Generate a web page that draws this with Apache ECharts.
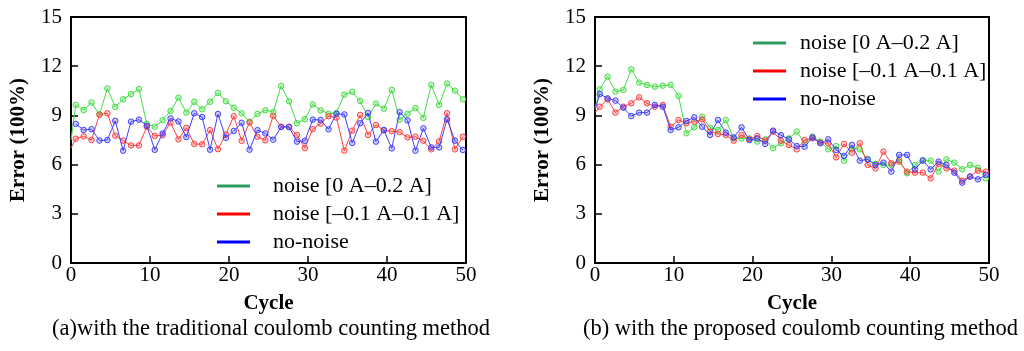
<!DOCTYPE html>
<html>
<head>
<meta charset="utf-8">
<script src="https://cdn.jsdelivr.net/npm/echarts@6/dist/echarts.min.js"></script>
<style>html,body{margin:0;padding:0;background:#fff;}#c{width:1024px;height:351px;}</style>
</head>
<body>
<div id="c"></div>
<script>
// x positions of the plotted points (first entry is the line start at cycle 0)
const cycles = [0, 0.6, 1.6, 2.6, 3.6, 4.6, 5.6, 6.6, 7.6, 8.6, 9.6, 10.6, 11.6, 12.6, 13.6, 14.6, 15.6, 16.6, 17.6, 18.6, 19.6,
  20.6, 21.6, 22.6, 23.6, 24.6, 25.6, 26.6, 27.6, 28.6, 29.6, 30.6, 31.6, 32.6, 33.6, 34.6, 35.6, 36.6, 37.6, 38.6, 39.6,
  40.6, 41.6, 42.6, 43.6, 44.6, 45.6, 46.6, 47.6, 48.6, 49.6];
const xTicks = [0, 10, 20, 30, 40, 50];
const yTicks = [0, 3, 6, 9, 12, 15];
const seriesNames = ['noise [0 A\u20130.2 A]', 'noise [\u20130.1 A\u20130.1 A]', 'no-noise'];

// (a) traditional coulomb counting
const aGreen = [7.5, 9.64, 9.33, 9.78, 9.05, 10.64, 9.52, 9.98, 10.3, 10.61, 8.49, 8.31, 8.71, 9.27, 10.08, 9.17, 9.83, 9.37, 9.83, 10.37, 9.86,
  9.47, 9.13, 8.62, 9.09, 9.31, 9.21, 10.8, 9.86, 8.52, 8.77, 9.67, 9.31, 9.1, 9.15, 10.27, 10.44, 9.88, 8.9, 9.72, 9.41,
  10.55, 8.74, 9.11, 9.45, 8.85, 10.86, 9.64, 10.94, 10.51, 9.98];
const aRed = [7.0, 7.58, 7.72, 7.5, 9.05, 9.13, 7.76, 7.46, 7.17, 7.17, 8.31, 7.75, 7.79, 8.56, 7.54, 8.24, 7.26, 7.24, 8.1, 6.94, 7.84,
  8.95, 7.45, 8.57, 7.7, 7.48, 8.97, 8.31, 8.31, 7.81, 7.01, 8.16, 8.5, 8.95, 8.87, 6.85, 8.07, 9.03, 7.81, 8.42, 8.09,
  8.04, 7.98, 7.66, 7.7, 7.45, 6.93, 7.42, 9.13, 6.93, 7.7];
const aBlue = [null, 8.48, 8.11, 8.16, 7.47, 7.5, 8.67, 6.85, 8.62, 8.74, 8.37, 6.9, 7.9, 8.82, 8.63, 7.68, 9.13, 8.9, 6.91, 9.08, 7.63,
  8.05, 8.55, 6.91, 8.1, 7.9, 7.52, 8.29, 8.29, 7.4, 7.45, 8.74, 8.72, 8.15, 9.1, 9.06, 7.32, 8.52, 9.15, 7.4, 8.11,
  6.99, 9.2, 8.7, 6.85, 8.21, 7.05, 7.05, 8.76, 7.46, 6.89];

// (b) proposed coulomb counting
const bGreen = [9.43, 10.59, 11.36, 10.45, 10.55, 11.81, 11.0, 10.86, 10.75, 10.81, 10.86, 10.19, 7.91, 8.27, 8.92, 8.25, 8.11, 8.72, 7.6, 7.6, 7.6,
  7.4, 7.54, 7.0, 7.3, 7.6, 8.01, 7.3, 7.7, 7.4, 6.93, 7.13, 6.24, 6.99, 6.93, 6.32, 6.04, 5.98, 5.98, 6.28, 5.47,
  5.98, 6.28, 6.24, 5.57, 6.32, 6.12, 5.71, 5.98, 5.81, 5.16];
const bRed = [9.17, 9.53, 9.98, 9.17, 9.53, 9.74, 10.1, 9.74, 9.53, 9.64, 8.31, 8.72, 8.52, 8.62, 8.76, 8.01, 7.87, 7.81, 7.46, 7.81, 7.54,
  7.75, 7.46, 8.01, 7.46, 7.2, 6.93, 7.5, 7.6, 7.34, 7.3, 6.44, 7.26, 6.73, 7.3, 5.98, 5.77, 6.79, 6.08, 6.18, 5.57,
  5.51, 5.51, 5.16, 6.04, 5.77, 5.63, 5.02, 5.27, 5.63, 5.57];
const bBlue = [9.33, 10.3, 10.04, 9.9, 9.47, 8.96, 9.17, 9.17, 9.64, 9.53, 8.11, 8.27, 8.66, 8.88, 8.31, 7.81, 8.72, 7.95, 7.66, 8.27, 7.5,
  7.6, 7.26, 8.07, 7.8, 7.54, 7.13, 7.09, 7.66, 7.3, 7.54, 6.89, 6.53, 7.2, 6.24, 6.32, 5.98, 6.12, 5.57, 6.59, 6.59,
  5.71, 6.24, 5.71, 6.18, 5.98, 5.51, 4.9, 5.27, 5.1, 5.37];

const captions = ['(a)with the traditional coulomb counting method', '(b) with the proposed coulomb counting method'];

const FONT = 'Liberation Serif';
const lineColors = ['#44dd44', '#ff4040', '#4040ff'];
const fillColors = ['rgba(68,221,68,0.25)', 'rgba(255,64,64,0.25)', 'rgba(64,64,255,0.25)'];
const legendColors = ['#2e9b5f', '#ff0000', '#0000ff'];

function mkSeries(name, vals, ci, idx) {
  const data = cycles.map((x, i) => {
    const v = vals[i];
    if (v === null) return { value: [x, '-'] };
    if (i === 0) return { value: [x, v], symbol: 'none' };
    return { value: [x, v] };
  });
  return {
    name: name, type: 'line', xAxisIndex: idx, yAxisIndex: idx, data: data,
    symbol: 'circle', symbolSize: 5.5, showSymbol: true,
    lineStyle: { color: lineColors[ci], width: 1 },
    itemStyle: { color: fillColors[ci], borderColor: lineColors[ci], borderWidth: 1 },
    emphasis: { disabled: true }, animation: false, z: 2 + ci
  };
}

function mkX(idx) {
  return {
    type: 'value', gridIndex: idx, min: xTicks[0], max: xTicks[xTicks.length - 1], interval: xTicks[1] - xTicks[0],
    axisLine: { lineStyle: { color: '#000', width: 2 } },
    axisTick: { inside: true, length: 7, lineStyle: { color: '#000', width: 1.5 } },
    axisLabel: { color: '#000', fontFamily: FONT, fontSize: 21, margin: 2 },
    splitLine: { show: false },
    name: 'Cycle', nameLocation: 'middle', nameGap: 30,
    nameTextStyle: { color: '#000', fontFamily: FONT, fontSize: 21, fontWeight: 'bold' }
  };
}
function mkY(idx) {
  return {
    type: 'value', gridIndex: idx, min: yTicks[0], max: yTicks[yTicks.length - 1], interval: yTicks[1] - yTicks[0],
    axisLine: { lineStyle: { color: '#000', width: 2 } },
    axisTick: { inside: true, length: 7, lineStyle: { color: '#000', width: 1.5 } },
    axisLabel: { color: '#000', fontFamily: FONT, fontSize: 21, margin: 9 },
    splitLine: { show: false },
    name: 'Error (100%)', nameLocation: 'middle', nameGap: 42, nameRotate: 90,
    nameTextStyle: { color: '#000', fontFamily: FONT, fontSize: 21, fontWeight: 'bold' }
  };
}
function mkLegend(left, top, gap) {
  return {
    orient: 'vertical', left: left, top: top, icon: 'rect', itemWidth: 33, itemHeight: 3, itemGap: 6,
    padding: 0, selectedMode: false,
    textStyle: { color: '#000', fontFamily: FONT, fontSize: 22, lineHeight: 22, padding: [0, 0, 0, gap] },
    data: seriesNames.map((n, i) => ({ name: n, itemStyle: { color: legendColors[i], borderWidth: 0 } }))
  };
}

const chart = echarts.init(document.getElementById('c'), null, { renderer: 'canvas' });
chart.setOption({
  backgroundColor: '#fff',
  animation: false,
  grid: [
    { left: 71, right: 558, top: 17, bottom: 88, show: true, borderColor: '#000', borderWidth: 2, backgroundColor: 'transparent' },
    { left: 595, right: 35, top: 17, bottom: 88, show: true, borderColor: '#000', borderWidth: 2, backgroundColor: 'transparent' }
  ],
  xAxis: [mkX(0), mkX(1)],
  yAxis: [mkY(0), mkY(1)],
  legend: [mkLegend(217, 175, 18), mkLegend(753, 32, 9)],
  series: [
    mkSeries(seriesNames[0], aGreen, 0, 0), mkSeries(seriesNames[1], aRed, 1, 0), mkSeries(seriesNames[2], aBlue, 2, 0),
    mkSeries(seriesNames[0], bGreen, 0, 1), mkSeries(seriesNames[1], bRed, 1, 1), mkSeries(seriesNames[2], bBlue, 2, 1)
  ],
  graphic: [
    { type: 'text', left: 52, top: 318, style: { text: captions[0], fill: '#000', font: '22.5px "Liberation Serif"' } },
    { type: 'text', left: 583, top: 318, style: { text: captions[1], fill: '#000', font: '22.5px "Liberation Serif"' } }
  ]
});
</script>
</body>
</html>
